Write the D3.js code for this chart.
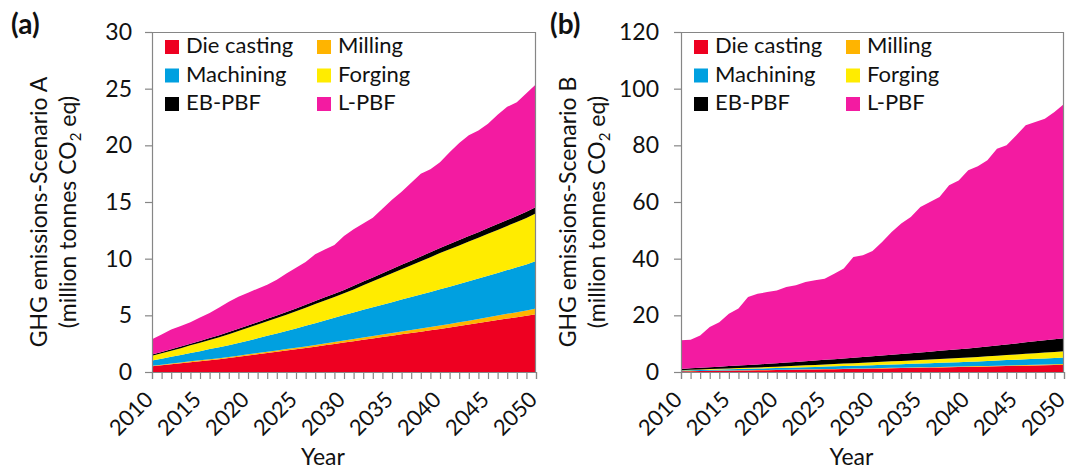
<!DOCTYPE html>
<html>
<head>
<meta charset="utf-8">
<script src="https://cdn.jsdelivr.net/npm/d3@7"></script>
<style>
  body { margin: 0; background: #fff; }
  svg { display: block; font-family: Lato, "Open Sans", sans-serif; }
</style>
</head>
<body>
<svg width="1069" height="470"></svg>
<script>
const svg = d3.select('svg');

// categories
const years = [2010, 2011, 2012, 2013, 2014, 2015, 2016, 2017, 2018, 2019, 2020,
    2021, 2022, 2023, 2024, 2025, 2026, 2027, 2028, 2029, 2030,
    2031, 2032, 2033, 2034, 2035, 2036, 2037, 2038, 2039, 2040,
    2041, 2042, 2043, 2044, 2045, 2046, 2047, 2048, 2049, 2050];
const processes = ['Die casting', 'Milling', 'Machining', 'Forging', 'EB-PBF', 'L-PBF'];
const colors = ['#ee0021', '#ffb400', '#00a0e0', '#ffec00', '#000000', '#f31ba1'];
const xLabelYears = [2010, 2015, 2020, 2025, 2030, 2035, 2040, 2045, 2050];
const yTicksA = [0, 5, 10, 15, 20, 25, 30];
const yTicksB = [0, 20, 40, 60, 80, 100, 120];

// Scenario A (million tonnes CO2 eq)
const dieCastingA = [0.50, 0.59, 0.68, 0.77, 0.86, 0.95, 1.04, 1.13, 1.23, 1.34, 1.45,
    1.56, 1.67, 1.78, 1.89, 2.00, 2.11, 2.23, 2.35, 2.47, 2.60,
    2.72, 2.84, 2.96, 3.08, 3.20, 3.32, 3.44, 3.56, 3.68, 3.80,
    3.93, 4.06, 4.19, 4.32, 4.45, 4.58, 4.71, 4.84, 4.97, 5.10];
const millingA = [0.06, 0.06, 0.07, 0.07, 0.08, 0.08, 0.09, 0.09, 0.10, 0.10, 0.11,
    0.11, 0.12, 0.12, 0.13, 0.14, 0.15, 0.16, 0.17, 0.18, 0.19,
    0.20, 0.21, 0.22, 0.23, 0.24, 0.25, 0.26, 0.27, 0.28, 0.30,
    0.31, 0.33, 0.34, 0.36, 0.38, 0.40, 0.42, 0.44, 0.46, 0.50];
const machiningA = [0.45, 0.52, 0.59, 0.66, 0.74, 0.81, 0.89, 0.96, 1.04, 1.12, 1.20,
    1.30, 1.40, 1.50, 1.60, 1.70, 1.81, 1.92, 2.03, 2.14, 2.25,
    2.34, 2.44, 2.53, 2.63, 2.72, 2.82, 2.91, 3.01, 3.10, 3.20,
    3.29, 3.38, 3.48, 3.57, 3.67, 3.76, 3.86, 3.96, 4.06, 4.20];
const forgingA = [0.42, 0.48, 0.54, 0.60, 0.67, 0.74, 0.81, 0.89, 0.97, 1.06, 1.15,
    1.22, 1.29, 1.36, 1.44, 1.52, 1.60, 1.68, 1.76, 1.83, 1.90,
    2.03, 2.16, 2.29, 2.42, 2.55, 2.68, 2.81, 2.94, 3.07, 3.20,
    3.30, 3.40, 3.50, 3.60, 3.70, 3.80, 3.90, 4.00, 4.10, 4.20];
const ebPbfA = [0.12, 0.12, 0.13, 0.14, 0.14, 0.15, 0.16, 0.17, 0.18, 0.19, 0.20,
    0.21, 0.22, 0.23, 0.24, 0.25, 0.26, 0.27, 0.28, 0.29, 0.30,
    0.31, 0.33, 0.34, 0.36, 0.37, 0.39, 0.40, 0.42, 0.43, 0.45,
    0.46, 0.47, 0.48, 0.49, 0.50, 0.51, 0.52, 0.53, 0.54, 0.55];
const lPbfA = [1.35, 1.53, 1.74, 1.81, 1.91, 2.07, 2.21, 2.46, 2.68, 2.84, 2.89,
    2.95, 3.00, 3.16, 3.40, 3.59, 3.77, 4.14, 4.21, 4.29, 4.76,
    5.00, 5.12, 5.26, 5.68, 6.12, 6.44, 6.88, 7.30, 7.34, 7.55,
    8.11, 8.56, 8.91, 8.96, 9.20, 9.65, 9.99, 10.03, 10.47, 10.85];

// Scenario B (million tonnes CO2 eq)
const dieCastingB = [0.25, 0.29, 0.34, 0.38, 0.43, 0.47, 0.52, 0.56, 0.61, 0.65, 0.70,
    0.75, 0.80, 0.85, 0.90, 0.95, 1.00, 1.05, 1.10, 1.15, 1.20,
    1.26, 1.32, 1.38, 1.44, 1.50, 1.56, 1.62, 1.68, 1.74, 1.80,
    1.87, 1.94, 2.01, 2.08, 2.15, 2.22, 2.29, 2.36, 2.43, 2.50];
const millingB = [0.05, 0.05, 0.05, 0.06, 0.06, 0.06, 0.07, 0.07, 0.07, 0.08, 0.08,
    0.08, 0.09, 0.09, 0.10, 0.10, 0.10, 0.11, 0.11, 0.12, 0.12,
    0.13, 0.14, 0.14, 0.15, 0.16, 0.16, 0.17, 0.18, 0.19, 0.20,
    0.21, 0.22, 0.23, 0.24, 0.25, 0.26, 0.27, 0.28, 0.29, 0.30];
const machiningB = [0.20, 0.24, 0.28, 0.32, 0.36, 0.40, 0.44, 0.48, 0.52, 0.56, 0.60,
    0.65, 0.70, 0.75, 0.80, 0.85, 0.90, 0.95, 1.00, 1.05, 1.10,
    1.15, 1.20, 1.25, 1.30, 1.35, 1.40, 1.45, 1.50, 1.55, 1.60,
    1.67, 1.74, 1.81, 1.88, 1.95, 2.02, 2.09, 2.16, 2.23, 2.30];
const forgingB = [0.15, 0.19, 0.22, 0.26, 0.29, 0.33, 0.36, 0.40, 0.43, 0.47, 0.50,
    0.55, 0.60, 0.65, 0.70, 0.75, 0.80, 0.85, 0.90, 0.95, 1.00,
    1.05, 1.10, 1.15, 1.20, 1.25, 1.30, 1.35, 1.40, 1.45, 1.50,
    1.57, 1.64, 1.71, 1.78, 1.85, 1.92, 1.99, 2.06, 2.13, 2.20];
const ebPbfB = [0.45, 0.52, 0.60, 0.67, 0.75, 0.82, 0.90, 0.97, 1.05, 1.12, 1.20,
    1.29, 1.38, 1.47, 1.56, 1.65, 1.74, 1.83, 1.92, 2.01, 2.10,
    2.21, 2.32, 2.43, 2.54, 2.65, 2.76, 2.87, 2.98, 3.09, 3.20,
    3.34, 3.48, 3.62, 3.76, 3.90, 4.04, 4.18, 4.32, 4.46, 4.60];
const lPbfB = [10.10, 10.11, 11.41, 14.21, 15.71, 18.52, 20.11, 24.02, 24.92, 25.32, 25.72,
    26.68, 27.03, 27.99, 28.34, 28.60, 30.16, 31.71, 35.57, 35.92, 37.18,
    40.10, 43.32, 46.05, 48.07, 51.29, 52.82, 54.34, 58.16, 59.58, 62.90,
    63.94, 65.68, 69.42, 70.26, 73.40, 76.64, 77.38, 78.22, 80.26, 82.70];

const axisColor = '#868686';

const renderPanel = (cfg) => {
    const { left, top, width, height, series, yMax, yTicks, letter, letterX, title, tickPad } = cfg;

    const rows = years.map((yr, i) => {
        const row = { year: yr };
        processes.forEach((p, k) => { row[p] = series[k][i]; });
        return row;
    });

    const xScale = d3.scaleLinear().domain([2010, 2050]).range([0, width]);
    const yScale = d3.scaleLinear().domain([0, yMax]).range([height, 0]);

    const stacked = d3.stack().keys(processes)(rows);

    const g = svg.append('g')
        .attr('transform', `translate(${left}, ${top})`);

    const area = d3.area()
        .x(d => xScale(d.data.year))
        .y0(d => yScale(d[0]))
        .y1(d => yScale(d[1]));

    g.selectAll('path.layer').data(stacked)
        .enter().append('path')
        .attr('class', 'layer')
        .attr('d', area)
        .attr('fill', (d, i) => colors[i]);

    // plot area frame (top + right)
    g.append('path')
        .attr('d', `M0,0.5H${width - 0.5}V${height}`)
        .attr('fill', 'none')
        .attr('stroke', axisColor)
        .attr('stroke-width', 1.2);

    const yAxisG = g.append('g')
        .call(d3.axisLeft(yScale).tickValues(yTicks).tickSize(7).tickPadding(tickPad));
    yAxisG.selectAll('.domain, .tick line').attr('stroke', axisColor).attr('stroke-width', 1.2);
    yAxisG.selectAll('.tick text')
        .attr('font-size', 23)
        .attr('fill', '#111')
        .style('font-family', 'Lato, sans-serif');

    const xAxisG = g.append('g')
        .attr('transform', `translate(0, ${height})`)
        .call(d3.axisBottom(xScale)
            .tickValues(years)
            .tickSize(7)
            .tickFormat(d => xLabelYears.includes(d) ? String(d) : ''));
    xAxisG.selectAll('.domain, .tick line').attr('stroke', axisColor).attr('stroke-width', 1.2);
    xAxisG.selectAll('.tick text')
        .attr('font-size', 22)
        .attr('fill', '#111')
        .style('font-family', 'Lato, sans-serif')
        .attr('text-anchor', 'end')
        .attr('x', 0).attr('y', 0).attr('dy', 0)
        .attr('transform', 'translate(2, 29) rotate(-45)');

    // legend, 2 columns x 3 rows
    const legend = g.append('g');
    processes.forEach((p, i) => {
        const col = i % 2;
        const row = Math.floor(i / 2);
        const lx = 13 + col * 152;
        const ly = 21 + row * 28.5;
        legend.append('rect')
            .attr('x', lx).attr('y', ly - 13)
            .attr('width', 14).attr('height', 14)
            .attr('fill', colors[i]);
        legend.append('text')
            .attr('x', lx + 21).attr('y', ly)
            .attr('font-size', 22)
            .attr('fill', '#111')
            .text(p);
    });

    // y axis title (two lines)
    const cy = height / 2 + 10;
    g.append('text')
        .attr('transform', `translate(${-105}, ${cy}) rotate(-90)`)
        .attr('text-anchor', 'middle')
        .attr('font-size', 23)
        .attr('fill', '#111')
        .text(title);
    const t2 = g.append('text')
        .attr('transform', `translate(${-76}, ${cy}) rotate(-90)`)
        .attr('text-anchor', 'middle')
        .attr('font-size', 23)
        .attr('fill', '#111');
    t2.append('tspan').text('(million tonnes CO');
    t2.append('tspan').attr('font-size', 15).attr('dy', 5).text('2');
    t2.append('tspan').attr('dy', -5).text(' eq)');

    // x axis title
    g.append('text')
        .attr('x', width / 2 - 21)
        .attr('y', height + 93)
        .attr('text-anchor', 'middle')
        .attr('font-size', 23)
        .attr('fill', '#111')
        .text('Year');

    // panel letter
    svg.append('text')
        .attr('x', letterX)
        .attr('y', 34)
        .attr('font-size', 28)
        .attr('font-weight', 'bold')
        .attr('fill', '#111')
        .text(letter);
};

renderPanel({
    left: 152, top: 32, width: 384, height: 340,
    series: [dieCastingA, millingA, machiningA, forgingA, ebPbfA, lPbfA],
    yMax: 30, yTicks: yTicksA, letter: '(a)', letterX: 11,
    title: 'GHG emissions-Scenario A', tickPad: 13
});

renderPanel({
    left: 681, top: 32, width: 383, height: 340,
    series: [dieCastingB, millingB, machiningB, forgingB, ebPbfB, lPbfB],
    yMax: 120, yTicks: yTicksB, letter: '(b)', letterX: 550,
    title: 'GHG emissions-Scenario B', tickPad: 15
});
</script>
</body>
</html>
